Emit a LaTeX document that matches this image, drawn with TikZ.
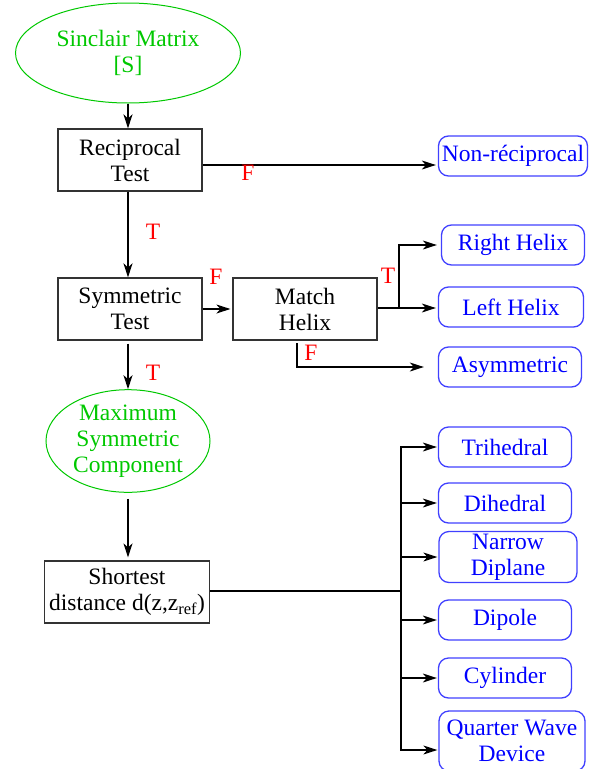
\documentclass[tikz,border=0pt]{standalone}
\usepackage{fontspec}
\setmainfont{Liberation Serif}
\usetikzlibrary{arrows.meta,shapes.geometric}
\definecolor{sgreen}{RGB}{0,200,0}
\definecolor{sblue}{RGB}{0,0,255}
\definecolor{sred}{RGB}{255,0,0}
\tikzset{
  test/.style={draw=black!80, line width=1.2pt, minimum width=144pt,
    minimum height=62pt, align=center, inner sep=0pt},
  start/.style={ellipse, draw=sgreen, line width=1pt, text=sgreen,
    align=center, inner sep=0pt},
  result/.style={draw=sblue!75, rounded corners=10pt, line width=1.3pt,
    text=sblue, minimum height=40pt, align=center, inner sep=0pt},
  flow/.style={line width=1.3pt, -{Stealth[length=14pt,width=9pt,inset=4pt]}},
  verdict/.style={text=sred},
}
\begin{document}
\begin{tikzpicture}[x=1pt, y=-1pt, font=\fontsize{23.5}{26}\selectfont]
    \useasboundingbox (0,0) rectangle (604,769);
    % tests
    \node[start, minimum width=225pt, minimum height=100pt] (sinclair) at (128,53)
        {Sinclair Matrix\\{[S]}};
    \node[test] (recip) at (130,160) {Reciprocal\\Test};
    \node[test] (sym) at (130,309) {Symmetric\\Test};
    \node[test] (match) at (305,309) {Match\\Helix};
    \node[start, minimum width=164pt, minimum height=100pt] (maxsym) at (128,441)
        {Maximum\\Symmetric\\Component};
    \node[test, minimum width=165pt] (short) at (127,592)
        {Shortest\\distance d(z,z\textsubscript{ref})};
    % results
    \node[result, minimum width=149pt] (nonrecip) at (513,156) {Non-réciprocal};
    \node[result, minimum width=143pt] (right) at (513,245) {Right Helix};
    \node[result, minimum width=145pt] (left) at (511,307) {Left Helix};
    \node[result, minimum width=143pt] (asym) at (510,367) {Asymmetric};
    \node[result, minimum width=133pt] (tri) at (505,447) {Trihedral};
    \node[result, minimum width=133pt] (di) at (505,503) {Dihedral};
    \node[result, minimum width=138pt, minimum height=51pt] (narrow) at (508,557)
        {Narrow\\Diplane};
    \node[result, minimum width=133pt] (dipole) at (505,620) {Dipole};
    \node[result, minimum width=133pt] (cyl) at (505,678) {Cylinder};
    \node[result, minimum width=146pt, minimum height=60pt] (quarter) at (512,741)
        {Quarter Wave\\Device};
    % connectors
    \draw[flow, line width=2pt] (sinclair.south) -- (sinclair.south |- recip.north);
    \draw[flow, shorten >=2pt] ([yshift=-5pt]recip.east) -- ([yshift=-5pt]recip.east -| nonrecip.west);
    \draw[flow, line width=2pt] (recip.south -| sinclair.south) -- (sym.north -| sinclair.south);
    \draw[flow, shorten >=2pt] (sym.east) -- (match.west);
    \draw[flow, shorten <=3pt] (sym.south -| maxsym.north) -- (maxsym.north);
    \draw[flow, shorten <=6pt, shorten >=3pt] (maxsym.south) -- (short.north -| maxsym.south);
    \coordinate (tjoin) at (399,308);
    \draw[flow, shorten >=2pt] (match.east |- tjoin) -- (tjoin -| left.west);
    \draw[flow, shorten >=4pt] (tjoin) |- (right.west);
    \coordinate (fjoin) at (297,343);
    \draw[flow, shorten >=14pt] (fjoin) |- (asym.west);
    \coordinate (trunk) at (401,591);
    \draw[line width=1.3pt] (short.east |- trunk) -- (trunk);
    \foreach \t in {tri,di,narrow,dipole,cyl}
        \draw[flow, shorten >=1pt] (trunk) |- (\t.west);
    \draw[flow, shorten >=1pt] (trunk) |- ([yshift=-9pt]quarter.west);
    % branch labels
    \node[verdict] (f1) at (248,173) {F};
    \node[verdict] (t1) at (153,232) {T};
    \node[verdict] (f2) at (216,277) {F};
    \node[verdict] (t2) at (388,276) {T};
    \node[verdict] (f3) at (311,353) {F};
    \node[verdict] (t3) at (153,373) {T};
\end{tikzpicture}
\end{document}
